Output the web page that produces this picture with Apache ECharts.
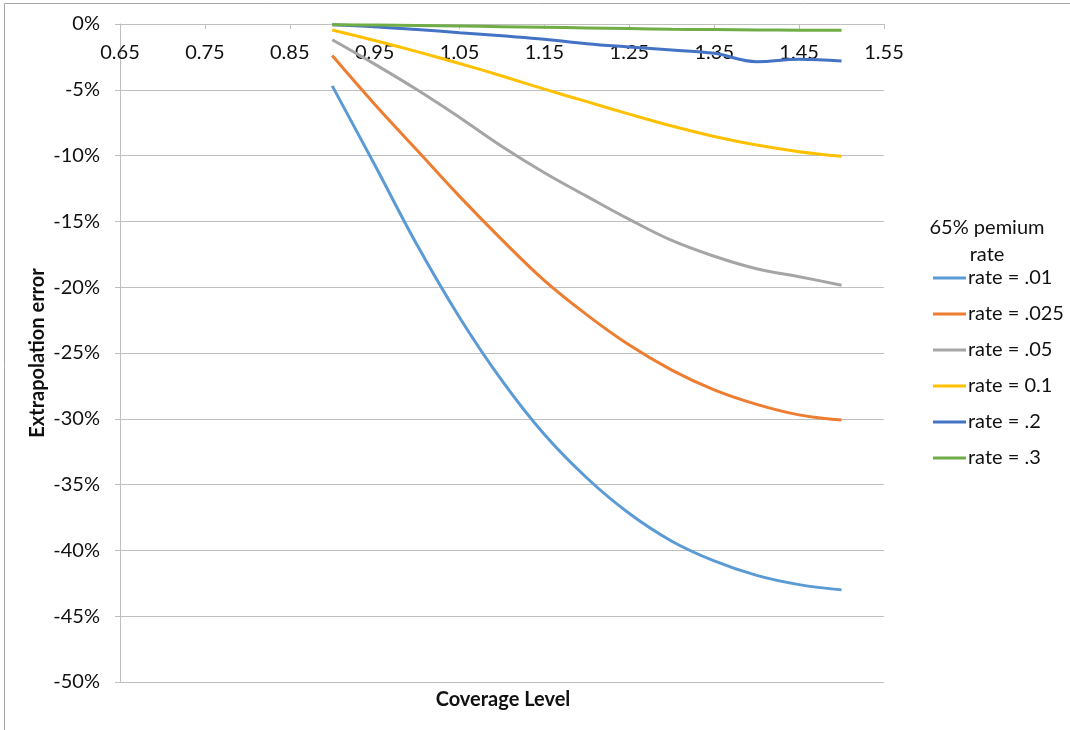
<!DOCTYPE html>
<html>
<head>
<meta charset="utf-8">
<script src="https://cdn.jsdelivr.net/npm/echarts@6/dist/echarts.min.js"></script>
<style>
html,body{margin:0;padding:0;background:#fff;}
#chart{width:1070px;height:730px;}
</style>
</head>
<body>
<div id="chart"></div>
<script>
// Coverage levels (x values)
const coverage = [0.90, 0.95, 1.00, 1.05, 1.10, 1.15, 1.20, 1.25, 1.30, 1.35, 1.40, 1.45, 1.50];

// Extrapolation error (%) by 65% premium rate
const rate01  = [-4.7, -10.7, -16.8, -22.3, -27.1, -31.2, -34.5, -37.2, -39.3, -40.8, -41.9, -42.6, -43.0];
const rate025 = [-2.4, -6.1, -9.6, -13.1, -16.4, -19.5, -22.1, -24.4, -26.3, -27.8, -28.9, -29.7, -30.1];
const rate05  = [-1.2, -3.05, -5.0, -7.1, -9.3, -11.3, -13.1, -14.85, -16.45, -17.65, -18.6, -19.2, -19.85];
const rate1   = [-0.45, -1.25, -2.1, -3.0, -3.95, -4.95, -5.9, -6.85, -7.75, -8.55, -9.2, -9.7, -10.05];
const rate2   = [-0.05, -0.2, -0.42, -0.66, -0.9, -1.15, -1.5, -1.75, -1.98, -2.23, -2.86, -2.68, -2.81];
const rate3   = [-0.05, -0.08, -0.12, -0.16, -0.2, -0.25, -0.3, -0.35, -0.4, -0.42, -0.45, -0.47, -0.48];

const seriesNames = ['rate = .01', 'rate = .025', 'rate = .05', 'rate = 0.1', 'rate = .2', 'rate = .3'];
const seriesValues = [rate01, rate025, rate05, rate1, rate2, rate3];
const colors = ['#5B9BD5', '#ED7D31', '#A5A5A5', '#FFC000', '#4472C4', '#70AD47'];

const FONT = 'Lato, "Open Sans", sans-serif';
const TXT = '#111';

const chart = echarts.init(document.getElementById('chart'));
chart.setOption({
  animation: false,
  color: colors,
  grid: { left: 120, right: 186, top: 24, bottom: 48, containLabel: false },
  xAxis: {
    type: 'value',
    position: 'top',
    min: 0.65, max: 1.55, interval: 0.1,
    axisLine: { show: true, onZero: false, lineStyle: { color: '#BFBFBF', width: 1 } },
    axisTick: { show: true, length: 5, inside: true, lineStyle: { color: '#BFBFBF' } },
    splitLine: { show: false },
    axisLabel: {
      inside: true, margin: 19, fontSize: 20, color: TXT, fontFamily: FONT,
      formatter: v => v.toFixed(2)
    }
  },
  yAxis: {
    type: 'value',
    min: -50, max: 0, interval: 5,
    name: 'Extrapolation error',
    nameLocation: 'middle',
    nameGap: 72,
    nameMoveOverlap: false,
    nameTextStyle: { fontSize: 20, fontWeight: 'bold', color: TXT, fontFamily: FONT },
    axisLine: { show: true, lineStyle: { color: '#BFBFBF', width: 1 } },
    axisTick: { show: true, length: 5, lineStyle: { color: '#BFBFBF' } },
    splitLine: { show: true, lineStyle: { color: '#BFBFBF', width: 1 } },
    axisLabel: {
      margin: 20, fontSize: 20, color: TXT, fontFamily: FONT,
      formatter: v => v + '%'
    }
  },
  legend: {
    orient: 'vertical',
    left: 928, top: 263,
    itemWidth: 33, itemHeight: 3,
    itemGap: 16,
    icon: 'rect',
    textStyle: { fontSize: 20, lineHeight: 20, color: TXT, fontFamily: FONT, padding: [0, 0, 0, -3] },
    data: seriesNames
  },
  graphic: [
    { type: 'text', x: 987, y: 241,
      style: { text: '65% pemium\nrate', align: 'center', verticalAlign: 'middle', fill: TXT, font: '20px ' + FONT, lineHeight: 27 } },
    { type: 'text', x: 503, y: 700,
      style: { text: 'Coverage Level', align: 'center', verticalAlign: 'middle', fill: TXT, font: 'bold 20px ' + FONT } },
    { type: 'line', shape: { x1: 4.5, y1: 3.5, x2: 1070, y2: 3.5 }, style: { stroke: '#A6A6A6', lineWidth: 1 } },
    { type: 'line', shape: { x1: 4.5, y1: 3.5, x2: 4.5, y2: 730 }, style: { stroke: '#A6A6A6', lineWidth: 1 } }
  ],
  series: seriesNames.map((name, i) => ({
    name: name,
    type: 'line',
    smooth: 0.4,
    symbol: 'none',
    lineStyle: { width: 3, color: colors[i] },
    itemStyle: { color: colors[i] },
    data: coverage.map((x, j) => [x, seriesValues[i][j]])
  }))
});
</script>
</body>
</html>
